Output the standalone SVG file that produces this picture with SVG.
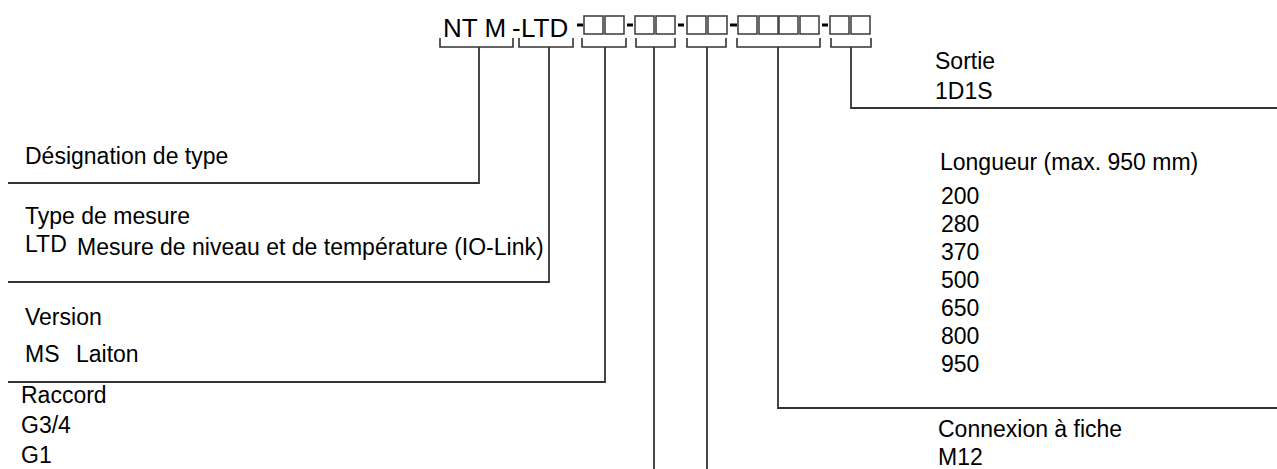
<svg xmlns="http://www.w3.org/2000/svg" width="1277" height="469" viewBox="0 0 1277 469">
<style>
text{font-family:"Liberation Sans",Arial,sans-serif;fill:#000;font-size:23px}
.code{font-size:26px}
.box{fill:none;stroke:#444;stroke-width:1.6}
.dash{stroke:#000;stroke-width:3}
.br{fill:none;stroke:#333;stroke-width:1.6}
.ln{fill:none;stroke:#333;stroke-width:1.8}
</style>
<rect width="1277" height="469" fill="#fff"/>
<g id="code">
<text class="code" x="443" y="37">NT M</text>
<text class="code" x="512" y="37">-</text>
<text class="code" x="521" y="37">LTD</text>
<g id="dashes">
<line class="dash" x1="577" y1="25" x2="583" y2="25"/>
<line class="dash" x1="627" y1="25" x2="633" y2="25"/>
<line class="dash" x1="678" y1="25" x2="684" y2="25"/>
<line class="dash" x1="730" y1="25" x2="737" y2="25"/>
<line class="dash" x1="822" y1="25" x2="828" y2="25"/>
</g>
<g id="boxes">
<rect class="box" x="584" y="16" width="19" height="18"/>
<rect class="box" x="605" y="16" width="19" height="18"/>
<rect class="box" x="635" y="16" width="19" height="18"/>
<rect class="box" x="656" y="16" width="19" height="18"/>
<rect class="box" x="687" y="16" width="19" height="18"/>
<rect class="box" x="708" y="16" width="19" height="18"/>
<rect class="box" x="738" y="16" width="19" height="18"/>
<rect class="box" x="759" y="16" width="19" height="18"/>
<rect class="box" x="779" y="16" width="19" height="18"/>
<rect class="box" x="800" y="16" width="19" height="18"/>
<rect class="box" x="830" y="16" width="19" height="18"/>
<rect class="box" x="851" y="16" width="19" height="18"/>
</g>
<g id="brackets">
<path class="br" d="M440,38V47H513V38"/>
<path class="br" d="M519,38V47H573V38"/>
<path class="br" d="M582,38V47H626V38"/>
<path class="br" d="M636,38V47H675V38"/>
<path class="br" d="M687,38V47H726V38"/>
<path class="br" d="M737,38V47H820V38"/>
<path class="br" d="M831,38V47H871V38"/>
</g>
</g>
<g id="connectors">
<path class="ln" d="M479,47V183H8"/>
<path class="ln" d="M549,47V282H8"/>
<path class="ln" d="M605,47V382H8"/>
<path class="ln" d="M654,47V469"/>
<path class="ln" d="M707,47V469"/>
<path class="ln" d="M778,47V408H1277"/>
<path class="ln" d="M851,47V108H1277"/>
</g>
<g id="designation">
<text x="25" y="164">Désignation de type</text>
</g>
<g id="type-mesure">
<text x="25" y="224">Type de mesure</text>
<text x="25" y="252">LTD</text>
<text x="77" y="255">Mesure de niveau et de température (IO-Link)</text>
</g>
<g id="version">
<text x="25" y="325">Version</text>
<text x="25" y="362">MS</text>
<text x="76" y="362">Laiton</text>
</g>
<g id="raccord">
<text x="21" y="403">Raccord</text>
<text x="21" y="433">G3/4</text>
<text x="21" y="463">G1</text>
</g>
<g id="sortie">
<text x="935" y="69">Sortie</text>
<text x="935" y="99">1D1S</text>
</g>
<g id="longueur">
<text x="940" y="170">Longueur (max. 950 mm)</text>
<text x="941" y="204">200</text>
<text x="941" y="232">280</text>
<text x="941" y="260">370</text>
<text x="941" y="288">500</text>
<text x="941" y="316">650</text>
<text x="941" y="344">800</text>
<text x="941" y="372">950</text>
</g>
<g id="connexion">
<text x="938" y="437">Connexion à fiche</text>
<text x="938" y="465">M12</text>
</g>
</svg>
